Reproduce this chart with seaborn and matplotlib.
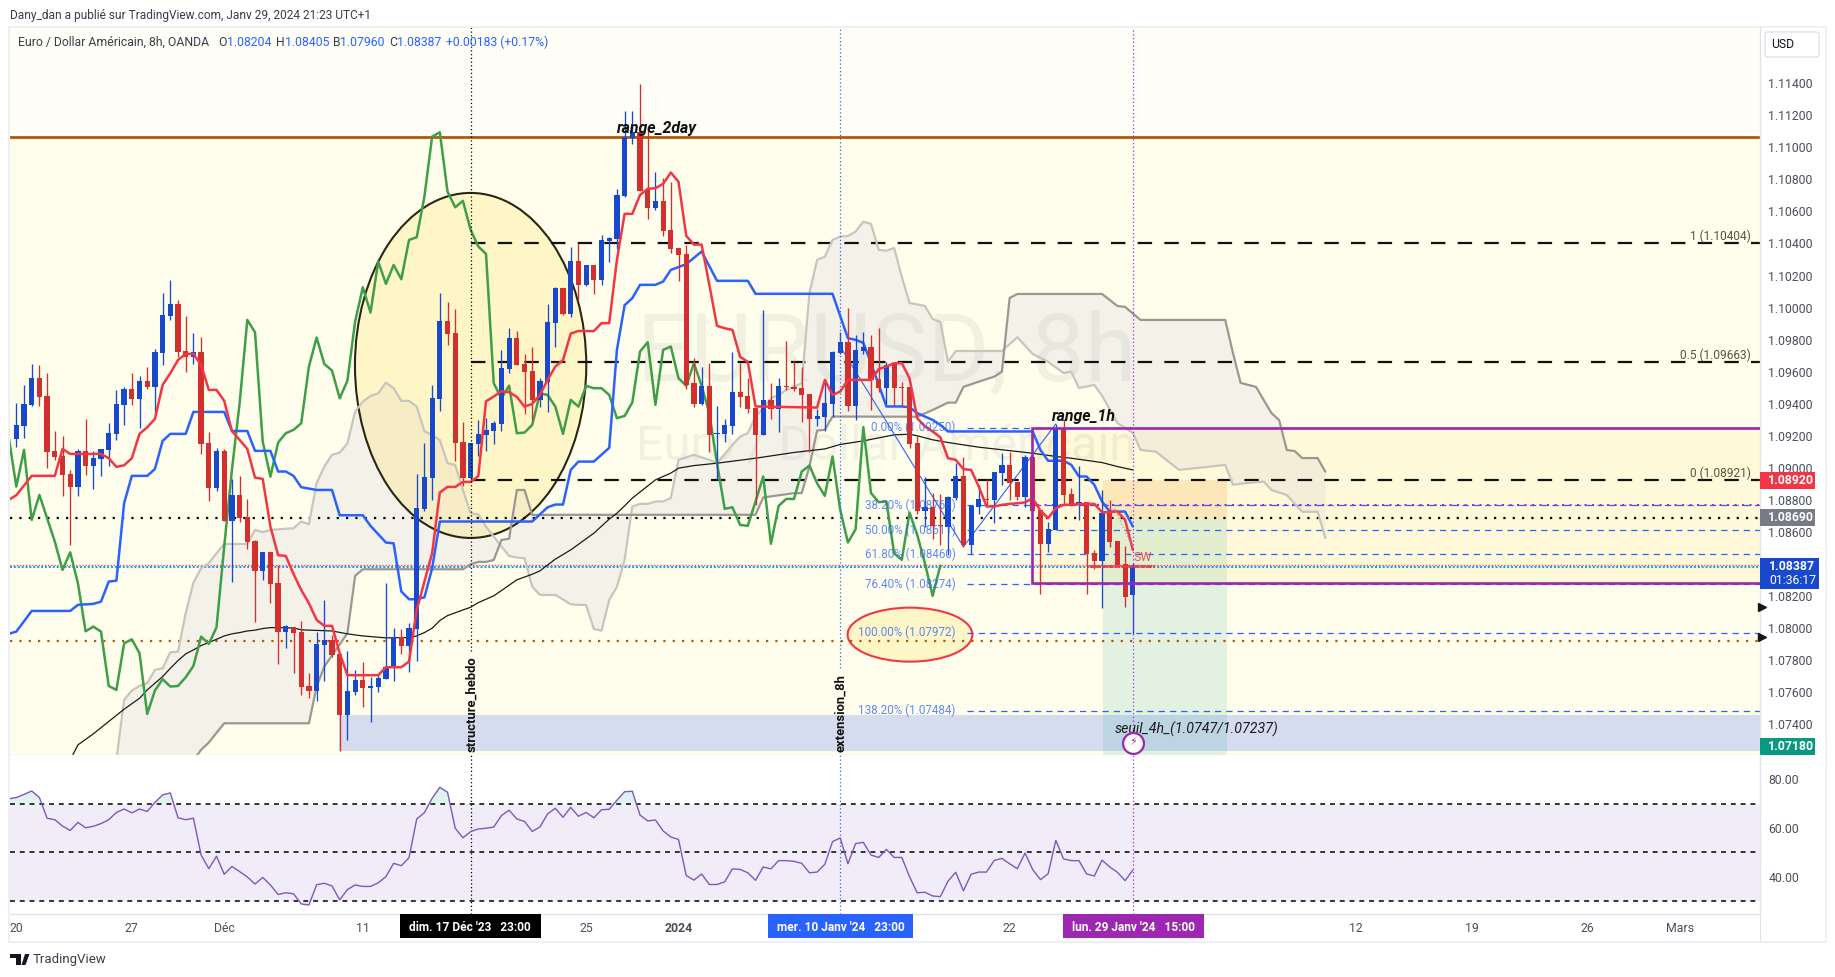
"""
EURUSD 8h TradingView snapshot: candles, ichimoku, fib levels and RSI pane
"""

import matplotlib

matplotlib.use("Agg")

import matplotlib.pyplot as plt
import numpy as np
import seaborn as sns
from matplotlib.patches import Ellipse, Polygon, Rectangle, FancyBboxPatch
from matplotlib.transforms import blended_transform_factory

# candles, read bar by bar
opens = [
    1.09183, 1.09264, 1.09393, 1.09561, 1.09449, 1.09103, 1.09074, 1.08962, 1.08883, 1.09103,
    1.09014, 1.09058, 1.09114, 1.09214, 1.09395, 1.09492, 1.0943, 1.09542, 1.09505, 1.09717,
    1.09948, 1.10023, 1.0973, 1.09692, 1.09723, 1.09155, 1.08875, 1.09106, 1.08669, 1.08831,
    1.08692, 1.08544, 1.08357, 1.08475, 1.08282, 1.07976, 1.08007, 1.07976, 1.07639, 1.07608,
    1.07895, 1.07926, 1.07839, 1.07458, 1.07602, 1.07677, 1.07627, 1.07633, 1.07683, 1.07752,
    1.07945, 1.07889, 1.07995, 1.08744, 1.08937, 1.0943, 1.09917, 1.09842, 1.09162, 1.08937,
    1.09149, 1.09205, 1.0923, 1.09274, 1.09617, 1.09811, 1.09648, 1.09605, 1.09424, 1.09536,
    1.09904, 1.10123, 1.09961, 1.10292, 1.10142, 1.10267, 1.10173, 1.10417, 1.10429, 1.10697,
    1.11059, 1.11097, 1.10741, 1.10622, 1.10666, 1.10485, 1.10373, 1.10335, 1.0953, 1.09399,
    1.09512, 1.09212, 1.09212, 1.09262, 1.09474, 1.09449, 1.09374, 1.09206, 1.09424, 1.09368,
    1.09512, 1.09505, 1.09499, 1.09462, 1.09306, 1.09318, 1.09399, 1.09718, 1.09786, 1.09387,
    1.09732, 1.09753, 1.09553, 1.09499, 1.09649, 1.09503, 1.09505, 1.09156, 1.08732, 1.08757,
    1.08644, 1.08632, 1.08813, 1.0895, 1.08519, 1.08757, 1.08806, 1.088, 1.08969, 1.09019,
    1.08913, 1.08819, 1.09069, 1.08738, 1.08526, 1.08613, 1.09249, 1.08838, 1.08775, 1.08788,
    1.08469, 1.0842, 1.08725, 1.08544, 1.08401, 1.08204,
]
highs = [
    1.09403, 1.09517, 1.09648, 1.09642, 1.09592, 1.0923, 1.09199, 1.08987, 1.09118, 1.09305,
    1.09103, 1.09116, 1.0928, 1.09486, 1.09507, 1.09592, 1.09574, 1.0963, 1.09742, 1.10091,
    1.10173, 1.10048, 1.09948, 1.09842, 1.09817, 1.09224, 1.09124, 1.09118, 1.08931, 1.0895,
    1.08806, 1.0855, 1.08475, 1.08475, 1.08394, 1.0802, 1.08007, 1.08045, 1.0772, 1.07976,
    1.08176, 1.07957, 1.07839, 1.07858, 1.07739, 1.07789, 1.07695, 1.07708, 1.08282, 1.08001,
    1.07995, 1.08032, 1.08962, 1.09155, 1.09517, 1.10091, 1.10035, 1.09992, 1.09287, 1.09155,
    1.09299, 1.09311, 1.09293, 1.09736, 1.09873, 1.09854, 1.09711, 1.09755, 1.09561, 1.10023,
    1.1013, 1.10123, 1.10379, 1.10404, 1.10267, 1.10267, 1.10454, 1.10441, 1.10741, 1.11228,
    1.11228, 1.11396, 1.11128, 1.10847, 1.10809, 1.10785, 1.10373, 1.10391, 1.09686, 1.0963,
    1.09655, 1.09387, 1.09306, 1.09724, 1.09655, 1.09561, 1.09374, 1.09986, 1.0953, 1.09561,
    1.09792, 1.09668, 1.0963, 1.09462, 1.09368, 1.09555, 1.0973, 1.09849, 1.09998, 1.0983,
    1.0985, 1.0983, 1.0987, 1.09661, 1.09661, 1.09537, 1.09505, 1.09206, 1.08944, 1.08844,
    1.08838, 1.08825, 1.09031, 1.09069, 1.08763, 1.08894, 1.08931, 1.08975, 1.09093, 1.091,
    1.08913, 1.09081, 1.09075, 1.08738, 1.08663, 1.09274, 1.09306, 1.08875, 1.09012, 1.08788,
    1.08488, 1.08863, 1.088, 1.08544, 1.08513, 1.08405,
]
lows = [
    1.09133, 1.09189, 1.09386, 1.09386, 1.08999, 1.09049, 1.08825, 1.08519, 1.08825, 1.08956,
    1.08868, 1.0895, 1.09012, 1.09174, 1.09268, 1.09393, 1.09249, 1.09492, 1.09341, 1.09642,
    1.09923, 1.09694, 1.09599, 1.09648, 1.09087, 1.08794, 1.08856, 1.08669, 1.08288, 1.08663,
    1.08494, 1.08039, 1.08301, 1.08155, 1.07776, 1.07876, 1.0772, 1.07583, 1.07564, 1.07546,
    1.0767, 1.0782, 1.07235, 1.07302, 1.07583, 1.07508, 1.07415, 1.07602, 1.07683, 1.0767,
    1.07839, 1.07727, 1.07795, 1.08731, 1.088, 1.09355, 1.09767, 1.09043, 1.08887, 1.08912,
    1.09074, 1.09106, 1.09149, 1.0923, 1.09592, 1.09642, 1.09336, 1.09299, 1.0938, 1.09349,
    1.09755, 1.09954, 1.09942, 1.10048, 1.10136, 1.10086, 1.10142, 1.10285, 1.10366, 1.1069,
    1.11022, 1.10728, 1.10554, 1.1061, 1.10448, 1.10341, 1.10167, 1.09493, 1.09381, 1.09393,
    1.091, 1.08925, 1.09162, 1.09212, 1.09381, 1.09343, 1.08769, 1.09206, 1.09306, 1.09225,
    1.09487, 1.09481, 1.09287, 1.091, 1.09262, 1.09231, 1.09318, 1.09711, 1.09356, 1.09299,
    1.09711, 1.09362, 1.09474, 1.09399, 1.09387, 1.09387, 1.09125, 1.08713, 1.08632, 1.08557,
    1.08519, 1.08457, 1.088, 1.08507, 1.08463, 1.08713, 1.08759, 1.08657, 1.08894, 1.088,
    1.088, 1.08757, 1.08732, 1.08214, 1.08476, 1.08613, 1.08769, 1.08763, 1.08675, 1.08214,
    1.0837, 1.08126, 1.08507, 1.08395, 1.08133, 1.0796,
]
closes = [
    1.09268, 1.09399, 1.09561, 1.09445, 1.09101, 1.0907, 1.08958, 1.08883, 1.09103, 1.09014,
    1.09062, 1.09116, 1.09218, 1.09399, 1.09492, 1.0943, 1.09542, 1.09505, 1.09723, 1.09954,
    1.10023, 1.09723, 1.09692, 1.09723, 1.09149, 1.08875, 1.09106, 1.08669, 1.08831, 1.08687,
    1.08538, 1.08357, 1.08475, 1.08276, 1.07976, 1.08014, 1.0797, 1.07633, 1.07608, 1.07901,
    1.07926, 1.07833, 1.07458, 1.07608, 1.07677, 1.07627, 1.07639, 1.07689, 1.07758, 1.07945,
    1.07889, 1.08001, 1.0875, 1.08943, 1.09436, 1.09917, 1.09836, 1.09155, 1.08937, 1.09155,
    1.09212, 1.09237, 1.0928, 1.09623, 1.09811, 1.09642, 1.09599, 1.09424, 1.09542, 1.09911,
    1.10123, 1.0996, 1.10292, 1.10142, 1.10267, 1.10173, 1.10423, 1.10435, 1.10703, 1.11065,
    1.11097, 1.10728, 1.10622, 1.10666, 1.10479, 1.10366, 1.10329, 1.09518, 1.09399, 1.09512,
    1.09206, 1.09218, 1.09268, 1.09474, 1.09443, 1.09368, 1.09206, 1.09424, 1.09368, 1.09512,
    1.09505, 1.09493, 1.09455, 1.09306, 1.09324, 1.09405, 1.09724, 1.09786, 1.09387, 1.09736,
    1.09757, 1.09549, 1.09499, 1.09641, 1.09499, 1.09499, 1.0915, 1.08732, 1.08757, 1.08638,
    1.08638, 1.08819, 1.0895, 1.08519, 1.08763, 1.08806, 1.088, 1.08975, 1.09019, 1.08906,
    1.08819, 1.09069, 1.08732, 1.08526, 1.08619, 1.09249, 1.08831, 1.08763, 1.08788, 1.08463,
    1.0842, 1.08719, 1.08538, 1.08395, 1.08195, 1.08387,
]

# ichimoku lines: only the vertices that could be read
tenkan_idx = [-1, 0, 2, 5, 6, 7, 11, 12, 13, 14, 15, 16, 17, 18, 19, 20, 21, 22, 23, 24, 25, 26, 27, 28, 29,
              30, 31, 32, 33, 34, 35, 36, 37, 38, 39, 40, 41, 42, 43, 47, 48, 50, 51, 52, 53, 54, 55, 56, 57,
              58, 59, 60, 61, 62, 63, 64, 65, 66, 67, 68, 69, 70, 71, 72, 73, 75, 76, 77, 78, 79, 80, 81, 82,
              83, 84, 85, 86, 87, 88, 89, 90, 91, 92, 93, 94, 95, 96, 104, 105, 106, 107, 108, 111, 112, 113,
              114, 115, 116, 117, 118, 119, 120, 121, 122, 123, 124, 125, 126, 127, 128, 129, 130, 131, 132,
              133, 134, 135, 136, 139, 140, 141, 142, 143, 144, 145]
tenkan_val = [1.08800, 1.08829, 1.08950, 1.08950, 1.09118, 1.09087, 1.09087, 1.09060, 1.09006, 1.09016, 1.09060,
              1.09212, 1.09253, 1.09305, 1.09517, 1.09590, 1.09673, 1.09711, 1.09711, 1.09642, 1.09486, 1.09486,
              1.09418, 1.09230, 1.09174, 1.09118, 1.08939, 1.08931, 1.08633, 1.08455, 1.08450, 1.08338, 1.08238,
              1.08155, 1.08051, 1.08014, 1.08014, 1.07843, 1.07706, 1.07706, 1.07756, 1.07756, 1.07791, 1.08113,
              1.08290, 1.08467, 1.08846, 1.08881, 1.08881, 1.08912, 1.08912, 1.08948, 1.09415, 1.09445, 1.09478,
              1.09472, 1.09443, 1.09382, 1.09399, 1.09455, 1.09549, 1.09632, 1.09673, 1.09838, 1.09854, 1.09853,
              1.09903, 1.09903, 1.10298, 1.10585, 1.10585, 1.10703, 1.10741, 1.10745, 1.10772, 1.10843, 1.10785,
              1.10448, 1.10393, 1.10393, 1.10142, 1.09886, 1.09871, 1.09861, 1.09693, 1.09661, 1.09383, 1.09376,
              1.09549, 1.09455, 1.09476, 1.09549, 1.09549, 1.09616, 1.09632, 1.09653, 1.09653, 1.09559, 1.09310,
              1.09258, 1.09227, 1.09191, 1.09060, 1.09050, 1.08992, 1.08987, 1.08883, 1.08759, 1.08759, 1.08769,
              1.08775, 1.08779, 1.08784, 1.08811, 1.08732, 1.08686, 1.08748, 1.08769, 1.08775, 1.08775, 1.08723,
              1.08723, 1.08727, 1.08675, 1.08488]

kijun_idx = [-1, 0, 2, 7, 8, 10, 11, 12, 13, 14, 15, 17, 18, 19, 20, 22, 23, 27, 28, 30, 31, 33, 34, 35, 36, 37,
             39, 41, 42, 45, 46, 48, 49, 50, 51, 52, 53, 54, 55, 67, 69, 70, 71, 72, 73, 75, 77, 78, 79, 80, 81,
             83, 84, 85, 87, 89, 91, 95, 96, 106, 108, 109, 110, 111, 112, 113, 115, 116, 117, 119, 120, 121,
             132, 133, 134, 136, 137, 138, 139, 140, 141, 142, 144, 145]
kijun_val = [1.07964, 1.07978, 1.08107, 1.08107, 1.08145, 1.08151, 1.08165, 1.08290, 1.08296, 1.08779, 1.08950,
             1.08950, 1.08993, 1.09168, 1.09212, 1.09212, 1.09349, 1.09349, 1.09230, 1.09230, 1.09106, 1.09106,
             1.08977, 1.08977, 1.08950, 1.08879, 1.08862, 1.08862, 1.08704, 1.08704, 1.08638, 1.08534, 1.08529,
             1.08228, 1.08180, 1.08180, 1.08192, 1.08373, 1.08665, 1.08665, 1.08754, 1.08771, 1.08771, 1.08987,
             1.09039, 1.09039, 1.09125, 1.09736, 1.10015, 1.10059, 1.10142, 1.10142, 1.10163, 1.10235, 1.10271,
             1.10350, 1.10167, 1.10167, 1.10086, 1.10086, 1.09809, 1.09799, 1.09780, 1.09653, 1.09518, 1.09383,
             1.09383, 1.09378, 1.09341, 1.09299, 1.09268, 1.09227, 1.09227, 1.09112, 1.09044, 1.09044, 1.09019,
             1.08946, 1.08946, 1.08894, 1.08790, 1.08727, 1.08727, 1.08634]

# lagging span, one value per bar from -1 to 120
chikou_val = [1.09195, 1.08883, 1.09112, 1.08675, 1.08831, 1.08685, 1.08540, 1.08363, 1.08473, 1.08280, 1.07980,
              1.08009, 1.07978, 1.07639, 1.07614, 1.07905, 1.07930, 1.07843, 1.07464, 1.07610, 1.07681, 1.07635,
              1.07639, 1.07693, 1.07764, 1.07947, 1.07901, 1.08005, 1.08509, 1.08987, 1.09403, 1.09923, 1.09846,
              1.09164, 1.08945, 1.09158, 1.09216, 1.09237, 1.09278, 1.09632, 1.09813, 1.09648, 1.09607, 1.09434,
              1.09544, 1.09913, 1.10127, 1.09969, 1.10287, 1.10148, 1.10266, 1.10177, 1.10422, 1.10439, 1.10693,
              1.11067, 1.11094, 1.10724, 1.10626, 1.10666, 1.10485, 1.10381, 1.10335, 1.09528, 1.09434, 1.09513,
              1.09216, 1.09220, 1.09268, 1.09465, 1.09455, 1.09382, 1.09212, 1.09424, 1.09382, 1.09512, 1.09497,
              1.09497, 1.09455, 1.09310, 1.09324, 1.09408, 1.09726, 1.09784, 1.09393, 1.09736, 1.09757, 1.09559,
              1.09512, 1.09653, 1.09512, 1.09341, 1.09029, 1.08744, 1.08754, 1.08644, 1.08638, 1.08790, 1.08946,
              1.08526, 1.08763, 1.08806, 1.08806, 1.08977, 1.09014, 1.08904, 1.08825, 1.09071, 1.08738, 1.08534,
              1.08617, 1.09254, 1.08842, 1.08786, 1.08790, 1.08467, 1.08426, 1.08721, 1.08582, 1.08405, 1.08201,
              1.08390]

span_a_idx = [13, 14, 15, 16, 17, 18, 19, 20, 21, 22, 23, 24, 25, 26, 27, 30, 31, 32, 33, 36, 37, 38, 39, 40, 41,
              42, 43, 44, 45, 46, 47, 48, 49, 50, 51, 52, 53, 54, 55, 56, 57, 58, 59, 60, 61, 62, 63, 64, 65, 66,
              67, 68, 70, 72, 73, 74, 75, 76, 77, 78, 79, 80, 81, 82, 83, 84, 85, 86, 88, 90, 91, 93, 94, 95, 96,
              97, 98, 99, 100, 102, 103, 104, 105, 106, 107, 108, 109, 110, 111, 112, 113, 114, 115, 116, 118,
              119, 120, 121, 122, 128, 130, 132, 134, 136, 137, 138, 140, 141, 143, 145, 146, 148, 151, 157, 158,
              160, 162, 163, 165, 167, 169, 170]
span_a_val = [1.07177, 1.07552, 1.07610, 1.07639, 1.07656, 1.07739, 1.07749, 1.07849, 1.07853, 1.08093, 1.08284,
              1.08373, 1.08405, 1.08467, 1.08525, 1.08525, 1.08613, 1.08598, 1.08613, 1.08623, 1.08665, 1.08648,
              1.08904, 1.09008, 1.09081, 1.09095, 1.09153, 1.09351, 1.09413, 1.09449, 1.09465, 1.09532, 1.09497,
              1.09418, 1.09418, 1.09382, 1.09228, 1.09205, 1.09174, 1.09029, 1.09018, 1.08862, 1.08717, 1.08710,
              1.08633, 1.08571, 1.08509, 1.08450, 1.08440, 1.08436, 1.08259, 1.08207, 1.08207, 1.08149, 1.08145,
              1.08144, 1.07994, 1.07984, 1.08175, 1.08257, 1.08426, 1.08759, 1.08775, 1.08775, 1.08790, 1.08790,
              1.08811, 1.09050, 1.09081, 1.09050, 1.09029, 1.09143, 1.09195, 1.09216, 1.09320, 1.09372, 1.09435,
              1.09455, 1.09487, 1.09528, 1.10090, 1.10298, 1.10318, 1.10422, 1.10443, 1.10447, 1.10474, 1.10536,
              1.10522, 1.10360, 1.10355, 1.10372, 1.10191, 1.10029, 1.10010, 1.09929, 1.09910, 1.09662, 1.09729,
              1.09729, 1.09815, 1.09710, 1.09662, 1.09592, 1.09600, 1.09498, 1.09517, 1.09450, 1.09280, 1.09218,
              1.09112, 1.09101, 1.08987, 1.09018, 1.08895, 1.08906, 1.08914, 1.08862, 1.08830, 1.08726, 1.08726,
              1.08562]

span_b_idx = [23, 24, 25, 27, 38, 39, 40, 43, 44, 45, 58, 59, 60, 61, 62, 63, 64, 65, 66, 67, 72, 96, 97, 101, 102,
              103, 104, 105, 106, 117, 119, 121, 122, 123, 125, 127, 128, 129, 130, 141, 143, 144, 146, 157, 158,
              159, 161, 162, 163, 164, 165, 166, 167, 169, 170]
span_b_val = [1.07177, 1.07240, 1.07286, 1.07406, 1.07406, 1.07635, 1.07760, 1.07968, 1.08326, 1.08367, 1.08367,
              1.08398, 1.08413, 1.08413, 1.08425, 1.08550, 1.08558, 1.08862, 1.08862, 1.08706, 1.08707, 1.08707,
              1.08815, 1.08842, 1.08842, 1.09008, 1.09233, 1.09237, 1.09320, 1.09319, 1.09361, 1.09407, 1.09407,
              1.09505, 1.09538, 1.09569, 1.09600, 1.10060, 1.10085, 1.10085, 1.10010, 1.10004, 1.09923, 1.09923,
              1.09717, 1.09530, 1.09505, 1.09423, 1.09342, 1.09298, 1.09111, 1.09105, 1.09061, 1.09061, 1.08976]

sma_idx = [7, 8, 10, 12, 14, 16, 17, 18, 19, 20, 21, 22, 23, 24, 25, 26, 27, 28, 29, 30, 31, 32, 33, 36, 37, 41, 43,
           45, 48, 51, 52, 53, 54, 55, 56, 58, 59, 60, 62, 63, 65, 67, 68, 69, 70, 72, 75, 77, 78, 79, 80, 83, 85,
           86, 88, 91, 96, 101, 105, 107, 110, 114, 116, 117, 119, 121, 125, 130, 132, 135, 137, 141, 143, 145]
sma_val = [1.07177, 1.07271, 1.07340, 1.07417, 1.07494, 1.07562, 1.07614, 1.07656, 1.07697, 1.07749, 1.07797,
           1.07839, 1.07864, 1.07891, 1.07910, 1.07930, 1.07951, 1.07964, 1.07972, 1.07982, 1.07987, 1.07997,
           1.08003, 1.08001, 1.07989, 1.07982, 1.07964, 1.07951, 1.07939, 1.07941, 1.07951, 1.07972, 1.07999,
           1.08047, 1.08078, 1.08113, 1.08130, 1.08159, 1.08201, 1.08234, 1.08301, 1.08336, 1.08357, 1.08394,
           1.08430, 1.08488, 1.08592, 1.08680, 1.08717, 1.08763, 1.08811, 1.08925, 1.08967, 1.08998, 1.09014,
           1.09029, 1.09060, 1.09096, 1.09118, 1.09146, 1.09168, 1.09206, 1.09210, 1.09200, 1.09175, 1.09158,
           1.09129, 1.09102, 1.09091, 1.09071, 1.09060, 1.09033, 1.09008, 1.08987]

# RSI, one value per bar from -1 to 145
rsi_val = [72.0, 72.5, 73.8, 75.2, 72.5, 64.0, 63.4, 60.8, 59.0, 62.3, 60.1, 60.7, 61.8, 63.4, 66.4, 67.8, 66.2, 67.8,
           66.8, 70.5, 73.6, 74.4, 64.2, 63.4, 64.0, 48.9, 43.3, 48.4, 41.0, 44.2, 42.1, 39.9, 37.0, 39.7, 36.6,
           32.7, 33.4, 33.0, 28.8, 28.4, 36.7, 37.3, 36.2, 30.5, 34.7, 36.6, 36.0, 36.0, 37.5, 40.0, 45.5, 44.5,
           47.8, 63.7, 66.3, 72.2, 76.7, 74.7, 59.9, 56.0, 58.5, 59.6, 59.9, 60.4, 65.1, 67.3, 63.7, 62.7, 58.6,
           60.4, 65.8, 68.1, 64.4, 68.5, 64.8, 66.4, 64.2, 67.5, 67.7, 71.4, 74.9, 75.1, 65.3, 62.9, 63.3, 58.8,
           56.3, 55.3, 40.5, 38.6, 41.1, 36.8, 36.8, 37.9, 43.2, 43.0, 41.6, 38.5, 44.0, 43.2, 46.6, 46.6, 46.3,
           45.5, 41.6, 41.9, 45.1, 54.4, 55.9, 45.3, 53.6, 54.1, 48.9, 47.9, 51.2, 47.9, 47.9, 40.0, 33.4, 33.6,
           32.1, 31.8, 38.2, 41.8, 34.2, 41.0, 41.9, 41.9, 46.7, 47.5, 45.3, 43.3, 49.7, 42.9, 38.8, 41.2, 54.9,
           47.3, 46.6, 46.6, 41.1, 40.3, 46.8, 44.0, 41.8, 38.4, 42.7]

# thin zigzag of the fib tool
fib_path_idx = [107, 123, 135]
fib_path_val = [1.09757, 1.08508, 1.09274]

fib_levels = [1.09250, 1.08768, 1.08611, 1.08460, 1.08274, 1.07972, 1.07484]
fib_labels = ["0.00% (1.09250)", "38.20% (1.08768)", "50.00% (1.08611)", "61.80% (1.08460)",
              "76.40% (1.08274)", "100.00% (1.07972)", "138.20% (1.07484)"]
range_levels = [1.10404, 1.09663, 1.08921]
range_labels = ["1 (1.10404)", "0.5 (1.09663)", "0 (1.08921)"]

price_ticks = [1.074, 1.076, 1.078, 1.080, 1.082, 1.084, 1.086, 1.088, 1.090, 1.092, 1.094, 1.096, 1.098,
               1.100, 1.102, 1.104, 1.106, 1.108, 1.110, 1.112, 1.114]
rsi_ticks = [40, 60, 80]
time_ticks = [0, 15, 27, 45, 74, 86, 129, 174, 189, 204, 216]
time_labels = ["20", "27", "Déc", "11", "25", "2024", "22", "12", "19", "26", "Mars"]

# colours
UP = "#1848CC"
DOWN = "#D32F2F"
LINE_RED = "#F23645"
LINE_BLUE = "#2962FF"
PURPLE = "#9C27B0"
VIOLET = "#9C27F0"
BROWN = "#B05A08"
TEXT = "#4A4E59"

W, H = 1835, 977
PRICE_PER_PX = 6.241e-5
FONT_SIZE = 8.8


def ax_rect(left, top, right, bottom):
    return [left / W, 1 - bottom / H, (right - left) / W, (bottom - top) / H]


def fig_text(x, y, s, **kw):
    # layout text placed in image pixels
    kw.setdefault("va", "center")
    return fig.text(x / W, 1 - y / H, s, **kw)


def fig_box(left, top, right, bottom, color):
    fig.add_artist(Rectangle((left / W, 1 - bottom / H), (right - left) / W, (bottom - top) / H,
                             transform=fig.transFigure, facecolor=color, edgecolor="none"))


def badge(value, label, color, height_px=17, width_px=55, text_value=None):
    ax.add_patch(Rectangle((1.0, value - height_px / 2 * PRICE_PER_PX), width_px / 1750,
                           height_px * PRICE_PER_PX, transform=side, facecolor=color,
                           edgecolor="none", clip_on=False, zorder=10))
    ax.text(1.0 + 8 / 1750, value if text_value is None else text_value, label, transform=side, color="white",
            fontsize=FONT_SIZE, fontweight="bold", va="center", ha="left", clip_on=False, zorder=11)


sns.set_theme(style="white")
plt.rcParams["font.family"] = ["Roboto", "DejaVu Sans"]

fig = plt.figure(figsize=(W / 100, H / 100), dpi=100, facecolor="white")
ax = fig.add_axes(ax_rect(10, 27, 1760, 755))
ax_rsi = fig.add_axes(ax_rect(10, 755, 1760, 914), sharex=ax)
side = blended_transform_factory(ax.transAxes, ax.transData)

ax.set_xlim(-0.82, 226.45)
ax.set_ylim(1.07208, 1.11751)
ax_rsi.set_ylim(24.68, 89.98)

bars = np.arange(len(opens))

# backgrounds: soft yellow under the orange line, stronger band for the 1h range
ax.set_facecolor("#FFFEEC")
ax.axhspan(1.11067, 1.11751, color="#FEFEF7", zorder=0, lw=0)
ax.add_patch(Rectangle((131.9, 1.08281), 100, 1.09250 - 1.08281, facecolor="#FFF9D9", edgecolor="none", zorder=0.2))

# watermark
ax.text(80.6, 1.0971, "EURUSD, 8h", fontsize=68, color="#787B86", alpha=0.1, va="center", ha="left", zorder=0.3)
ax.text(80.5, 1.0913, "Euro / Dollar Américain", fontsize=35, color="#787B86", alpha=0.1, va="center", ha="left", zorder=0.3)

# ichimoku cloud
ax.fill(np.r_[span_a_idx, span_b_idx[::-1]], np.r_[span_a_val, span_b_val[::-1]], facecolor="#C8C6D8", alpha=0.2,
        edgecolor="none", zorder=0.5)

# zones and position tool
ax.add_patch(Rectangle((41.9, 1.07235), 200, 1.07457 - 1.07235, facecolor="#D4DCEE", edgecolor="none", zorder=0.6))
ax.add_patch(Rectangle((141.1, 1.0869), 16.1, 1.08921 - 1.0869, facecolor="#F57C00", alpha=0.15, edgecolor="none", zorder=0.7))
ax.add_patch(Rectangle((141.1, 1.07208), 16.1, 1.0869 - 1.07208, facecolor="#089981", alpha=0.11, edgecolor="none", zorder=0.7))

# ellipses
ax.add_patch(Ellipse((59, 1.09639), 30.04, 0.02153, facecolor=(1, 0.847, 0.23, 0.2), edgecolor="#2B2612", lw=1.5, zorder=0.8))
ax.add_patch(Ellipse((116.06, 1.07959), 16.2, 0.00337, facecolor=(1, 0.847, 0.23, 0.2), edgecolor=LINE_RED, lw=1.5, zorder=0.8))

# horizontal levels
ax.axhline(1.11067, color=BROWN, lw=2, zorder=1)
ax.axhline(1.0869, color="black", lw=1.6, ls=(0, (1, 3.2)), zorder=1)
ax.axhline(1.07921, color=BROWN, lw=1.6, ls=(0, (1, 3.2)), zorder=1)
ax.axhline(1.08394, color=LINE_RED, lw=0.9, ls=(0, (1, 1.5)), zorder=1)
ax.axhline(1.0838, color="#2196F3", lw=1.4, ls=(0, (1, 1)), zorder=1)
ax.hlines(1.08768, 132.6, 227, color=VIOLET, lw=1.5, ls=(0, (1, 2.6)), zorder=1.1)

for level, label in zip(range_levels, range_labels):
    ax.hlines(level, 59, 227, color="#111111", lw=1.6, ls=(0, (6.5, 5.5)), zorder=1)
    ax.text(225.3, level + 0.00042, label, color="#55533F", fontsize=8.6, ha="right", va="center", zorder=6)

for level, label in zip(fib_levels, fib_labels):
    ax.hlines(level, 123.5, 227, color=LINE_BLUE, lw=0.9, ls=(0, (5, 4)), zorder=1)
    ax.text(122, level, label, color=LINE_BLUE, alpha=0.75, fontsize=8.4, ha="right", va="center", zorder=6)

# cursors
ax.vlines(59, 1.07857, 1.1176, color="black", lw=0.9, ls=(0, (1, 2)), zorder=5)
ax.vlines(107, 1.07752, 1.1176, color=LINE_BLUE, lw=0.9, ls=(0, (1, 2)), zorder=5)
ax.axvline(145, color=VIOLET, lw=0.9, ls=(0, (1, 2)), zorder=5)

# ichimoku and moving average lines
line_kw = dict(ax=ax, estimator=None, sort=False, legend=False)
sns.lineplot(x=span_a_idx, y=span_a_val, color="#C7C5BE", lw=1.6, zorder=1.5, **line_kw)
sns.lineplot(x=span_b_idx, y=span_b_val, color="#9A9890", lw=1.6, zorder=1.5, **line_kw)
sns.lineplot(x=sma_idx, y=sma_val, color="#1A1A1A", lw=0.9, zorder=2, **line_kw)
sns.lineplot(x=np.arange(-1, 121), y=chikou_val, color="#3F9E48", lw=1.8, zorder=2, **line_kw)
sns.lineplot(x=fib_path_idx, y=fib_path_val, color=LINE_BLUE, lw=0.8, zorder=2, **line_kw)
sns.lineplot(x=kijun_idx, y=kijun_val, color=LINE_BLUE, lw=1.8, zorder=2.1, **line_kw)

# candles
colors = [UP if c >= o else DOWN for o, c in zip(opens, closes)]
ax.vlines(bars, lows, highs, colors=colors, lw=0.95, zorder=3)
body_low = np.minimum(opens, closes)
body_height = np.maximum(np.abs(np.subtract(closes, opens)), 0.00006)
ax.bar(bars, body_height, width=0.68, bottom=body_low, color=colors, linewidth=0, zorder=3)

sns.lineplot(x=tenkan_idx, y=tenkan_val, color=LINE_RED, lw=1.8, zorder=4, **line_kw)

# 1h range box goes over the candles
ax.add_patch(Rectangle((131.9, 1.08281), 100, 1.09250 - 1.08281, facecolor="none", edgecolor=PURPLE, lw=1.9, zorder=4.5))

# signal marks near the last bar
ax.hlines(1.08387, 139.3, 147.8, color=LINE_RED, lw=1.9, ls=(0, (2, 0.4)), zorder=4.5)
sns.lineplot(x=[142.6, 145], y=[1.08745, 1.08505], color="#9A9890", lw=0.9, ls=":", zorder=4.5, **line_kw)
ax.text(145.1, 1.08439, "SW", color=LINE_RED, alpha=0.85, fontsize=9, ha="left", va="center", zorder=6)

# drawn labels
ax.text(78, 1.11120, "range_2day", fontsize=11.4, style="italic", fontweight="bold", color="#111111", va="center", zorder=6)
ax.text(134.5, 1.09322, "range_1h", fontsize=11.4, style="italic", fontweight="bold", color="#111111", va="center", zorder=6)
ax.text(142.6, 1.07365, "seuil_4h_(1.0747/1.07237)", fontsize=10.2, style="italic", color="#1C1C1C", va="center", zorder=6)
ax.text(59.1, 1.07228, "structure_hebdo", fontsize=9.4, fontweight="bold", rotation=90, color="#111111", ha="center",
        va="bottom", zorder=6)
ax.text(107.1, 1.07228, "extension_8h", fontsize=9.4, fontweight="bold", rotation=90, color="#111111", ha="center",
        va="bottom", zorder=6)

# flash icon on the last bar
sns.lineplot(x=[145], y=[1.07285], color=PURPLE, marker="o", markersize=15, markerfacecolor="white", markeredgecolor=PURPLE,
             markeredgewidth=1.6, zorder=7, clip_on=False, **line_kw)
ax.text(145, 1.07285, "\u26a1", color=PURPLE, fontsize=8, ha="center", va="center", zorder=8, family=["DejaVu Sans"],
        clip_on=False)

# RSI pane
ax_rsi.set_facecolor("white")
rsi_x = np.arange(-1, 146)
rsi_arr = np.array(rsi_val)
ax_rsi.axhspan(30, 70, facecolor="#7E57C2", alpha=0.1, lw=0, zorder=0)
ax_rsi.fill_between(rsi_x, 70, rsi_arr, where=rsi_arr > 70, interpolate=True, color="#089981", alpha=0.12, lw=0, zorder=1)
ax_rsi.fill_between(rsi_x, 30, rsi_arr, where=rsi_arr < 30, interpolate=True, color="#F23645", alpha=0.12, lw=0, zorder=1)
for level in [30, 50, 70]:
    ax_rsi.axhline(level, color="black", lw=1.1, ls=(0, (3.2, 3.2)), zorder=1.5)
sns.lineplot(x=rsi_x, y=rsi_val, ax=ax_rsi, color="#7E57C2", lw=1, estimator=None, sort=False, legend=False, zorder=3)
ax_rsi.axvline(59, color="black", lw=0.9, ls=(0, (1, 2)), zorder=2)
ax_rsi.axvline(107, color=LINE_BLUE, lw=0.9, ls=(0, (1, 2)), zorder=2)
ax_rsi.axvline(145, color=VIOLET, lw=0.9, ls=(0, (1, 2)), zorder=2)

# axes and ticks
ax.set_xlabel("")
ax.set_ylabel("")
ax_rsi.set_xlabel("")
ax_rsi.set_ylabel("")
ax.yaxis.tick_right()
ax.set_yticks(price_ticks)
ax.set_yticklabels([f"{t:.5f}" for t in price_ticks])
ax.tick_params(axis="y", length=0, pad=6, labelsize=FONT_SIZE, labelcolor=TEXT)
ax.tick_params(axis="x", length=0, labelbottom=False)
ax_rsi.yaxis.tick_right()
ax_rsi.set_yticks(rsi_ticks)
ax_rsi.set_yticklabels([f"{t:.2f}" for t in rsi_ticks])
ax_rsi.tick_params(axis="y", length=0, pad=6, labelsize=FONT_SIZE, labelcolor=TEXT)
ax_rsi.set_xticks(time_ticks)
ax_rsi.set_xticklabels(time_labels)
ax_rsi.tick_params(axis="x", length=0, pad=6, labelsize=FONT_SIZE, labelcolor=TEXT)
ax_rsi.get_xticklabels()[5].set_fontweight("bold")

for a in (ax, ax_rsi):
    for name, spine in a.spines.items():
        spine.set_color("#E0E3EB")
        spine.set_linewidth(1)
    a.spines["top"].set_visible(False)
    a.spines["left"].set_visible(False)
    a.grid(False)

# price badges
badge(1.0892, "1.08920", "#F23645")
badge(1.0869, "1.08690", "#787B86")
badge(1.07261, "1.07180", "#089981")
ax.add_patch(Rectangle((1.0, 1.08387 - 23 * PRICE_PER_PX), 59 / 1750, 31 * PRICE_PER_PX, transform=side, facecolor=UP,
                       edgecolor="none", clip_on=False, zorder=10))
ax.text(1.0 + 9 / 1750, 1.08387, "1.08387", transform=side, color="white", fontsize=FONT_SIZE, fontweight="bold", va="center",
        clip_on=False, zorder=11)
ax.text(1.0 + 9 / 1750, 1.08387 - 14 * PRICE_PER_PX, "01:36:17", transform=side, color="white", fontsize=FONT_SIZE, va="center",
        clip_on=False, zorder=11)

# little markers on the price scale
for level in [1.08133, 1.07946]:
    ax.plot([1.0 + 2 / 1750], [level], transform=side, marker=">", markersize=5.5, color="#131722", clip_on=False, zorder=11)

# frame around the whole widget
fig_box(10, 26, 1825, 28, "#EDF0F4")
fig_box(8, 26, 10, 943, "#EDF0F4")
fig_box(1825, 26, 1827, 943, "#EDF0F4")
fig_box(8, 941, 1827, 943, "#EDF0F4")
fig_box(1760, 755, 1761, 941, "#E0E3EB")

# USD button
fig.add_artist(FancyBboxPatch((1765 / W, 1 - 57 / H), 54 / W, 25 / H, boxstyle="round,pad=0,rounding_size=0.002",
                              transform=fig.transFigure, facecolor="white", edgecolor="#E0E3EB", lw=1))
fig_text(1771, 44, "USD", fontsize=FONT_SIZE, color="#131722")

# header texts
fig_text(10, 15, "Dany_dan a publié sur TradingView.com, Janv 29, 2024 21:23 UTC+1", fontsize=8.6, color="#3A3E4A")
fig_text(18, 42, "Euro / Dollar Américain, 8h, OANDA", fontsize=FONT_SIZE, color="#3A3E4A")
for x, letter, x_val, value in [(218.5, "O", 226.5, "1.08204"), (276, "H", 285, "1.08405"),
                                (333, "B", 340, "1.07960"), (389, "C", 396.5, "1.08387")]:
    fig_text(x, 42, letter, fontsize=FONT_SIZE, color="#3A3E4A")
    fig_text(x_val, 42, value, fontsize=FONT_SIZE, color="#2962FF")
fig_text(446, 42, "+0.00183 (+0.17%)", fontsize=FONT_SIZE, color="#2962FF")

# time cursor labels
for left, right, color, label in [(400, 540.5, "black", "dim. 17 Déc '23   23:00"),
                                  (768, 913, "#2962FF", "mer. 10 Janv '24   23:00"),
                                  (1063, 1204, PURPLE, "lun. 29 Janv '24   15:00")]:
    fig_box(left, 914, right, 937.5, color)
    fig_text((left + right) / 2, 927.5, label, fontsize=8.6, color="white", ha="center", fontweight="bold")

# footer logo
logo_t = [(10, 954), (21, 954), (21, 965), (15.5, 965), (15.5, 958), (10, 958)]
logo_v = [(25, 954), (29.5, 954), (25.5, 965), (21.5, 965)]
for shape in (logo_t, logo_v):
    fig.add_artist(Polygon([(x / W, 1 - y / H) for x, y in shape], transform=fig.transFigure, facecolor="#131722",
                           edgecolor="none"))
fig_text(33, 959.5, "TradingView", fontsize=9.5, color="#3A3E4A")

fig.savefig("out.png", dpi=100)
